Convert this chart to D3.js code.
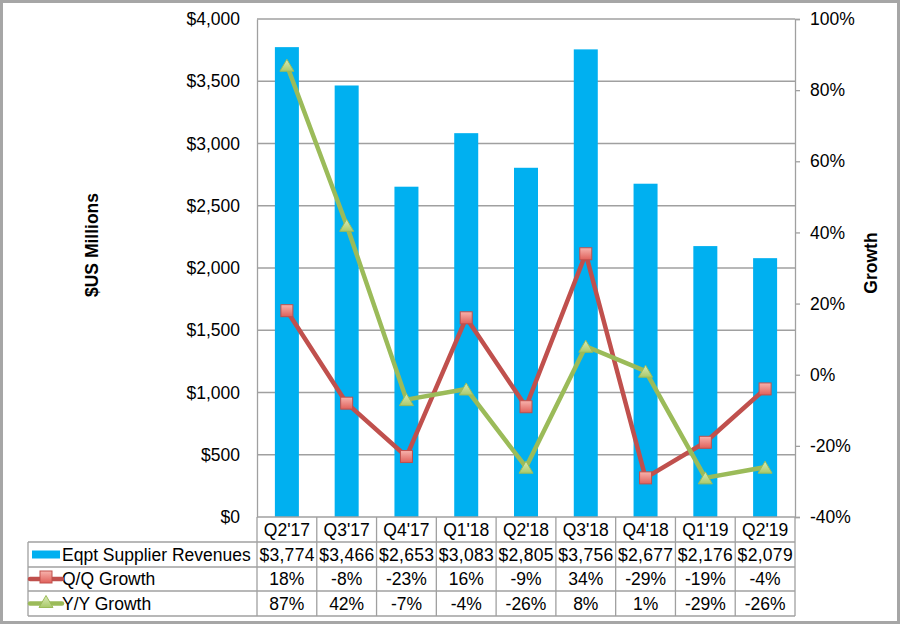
<!DOCTYPE html>
<html><head><meta charset="utf-8">
<script src="https://cdn.jsdelivr.net/npm/d3@7"></script>
<style>
html,body{margin:0;padding:0;background:#fff;}
svg{display:block;font-family:"Liberation Sans",Arial,sans-serif;}
</style></head>
<body><svg id="c" width="902" height="625"></svg>
<script>
const categories = ["Q2'17","Q3'17","Q4'17","Q1'18","Q2'18","Q3'18","Q4'18","Q1'19","Q2'19"];
const revenues = [3774,3466,2653,3083,2805,3756,2677,2176,2079];
const qqGrowth = [18,-8,-23,16,-9,34,-29,-19,-4];
const yyGrowth = [87,42,-7,-4,-26,8,1,-29,-26];
const leftTicks = [0,500,1000,1500,2000,2500,3000,3500,4000];
const rightTicks = [-40,-20,0,20,40,60,80,100];
const seriesNames = ["Eqpt Supplier Revenues","Q/Q Growth","Y/Y Growth"];

const svg = d3.select("#c");
const W = 902, H = 625;
const L = 257, R = 795, T = 19, B = 517;
const FS = 17.5;
const barColor = "#00b0f0", qqColor = "#c0504d", yyColor = "#9bbb59", gridColor = "#a0a0a0";

const defs = svg.append("defs");
const gq = defs.append("linearGradient").attr("id","gq").attr("x1",0).attr("y1",0).attr("x2",0).attr("y2",1);
gq.append("stop").attr("offset","0%").attr("stop-color","#f7b3ad");
gq.append("stop").attr("offset","100%").attr("stop-color","#e0605a");
const gy = defs.append("linearGradient").attr("id","gy").attr("x1",0).attr("y1",0).attr("x2",0).attr("y2",1);
gy.append("stop").attr("offset","0%").attr("stop-color","#dcebb8");
gy.append("stop").attr("offset","100%").attr("stop-color","#a9c96a");

svg.append("rect").attr("x",1.5).attr("y",1.5).attr("width",W-5).attr("height",H-4)
  .attr("fill","#fff").attr("stroke","#a6a6a6").attr("stroke-width",3);

const xb = d3.scaleBand().domain(categories).range([L,R]);
const yL = d3.scaleLinear().domain([0,4000]).range([B,T]);
const yR = d3.scaleLinear().domain([-40,100]).range([B,T]);

// gridlines
svg.append("g").selectAll("line").data(leftTicks.slice(1)).join("line")
  .attr("x1",L).attr("x2",R).attr("y1",d=>yL(d)).attr("y2",d=>yL(d))
  .attr("stroke",gridColor).attr("stroke-width",1.3);

// left axis
const la = svg.append("g").attr("transform",`translate(${L},0)`)
  .call(d3.axisLeft(yL).tickValues(leftTicks).tickSize(0).tickPadding(17)
    .tickFormat(d=>"$"+d3.format(",")(d)));
la.select(".domain").attr("stroke",gridColor).attr("stroke-width",1.3);
la.selectAll("text").attr("font-size",FS).attr("fill","#000").attr("font-family","Liberation Sans, Arial, sans-serif");

// right axis
const ra = svg.append("g").attr("transform",`translate(${R},0)`)
  .call(d3.axisRight(yR).tickValues(rightTicks).tickSize(5).tickPadding(10)
    .tickFormat(d=>d+"%"));
ra.select(".domain").attr("stroke",gridColor).attr("stroke-width",1.3);
ra.selectAll(".tick line").attr("stroke",gridColor).attr("stroke-width",1.3);
ra.selectAll("text").attr("font-size",FS).attr("fill","#000").attr("font-family","Liberation Sans, Arial, sans-serif");

// bars
svg.append("g").selectAll("rect").data(revenues).join("rect")
  .attr("x",(d,i)=>xb(categories[i])+xb.bandwidth()/2-12)
  .attr("width",24)
  .attr("y",d=>yL(d)).attr("height",d=>B-yL(d)).attr("fill",barColor);

// lines
const cx = i => xb(categories[i]) + xb.bandwidth()/2;
const line = d3.line().x((d,i)=>cx(i)).y(d=>yR(d));
svg.append("path").datum(qqGrowth).attr("d",line).attr("fill","none")
  .attr("stroke",qqColor).attr("stroke-width",4.5).attr("stroke-linejoin","round");
svg.append("path").datum(yyGrowth).attr("d",line).attr("fill","none")
  .attr("stroke",yyColor).attr("stroke-width",4.5).attr("stroke-linejoin","round");

function square(g, px, py){
  g.append("rect").attr("x",px-6).attr("y",py-6).attr("width",12).attr("height",12)
   .attr("fill","url(#gq)").attr("stroke","#c0504d").attr("stroke-width",1);
}
function tri(g, px, py){
  g.append("path").attr("d",`M${px},${py-7}L${px+7},${py+5}L${px-7},${py+5}Z`)
   .attr("fill","url(#gy)").attr("stroke","#9bbb59").attr("stroke-width",1);
}
const mg = svg.append("g");
qqGrowth.forEach((d,i)=>square(mg,cx(i),yR(d)));
yyGrowth.forEach((d,i)=>tri(mg,cx(i),yR(d)+1));

// axis titles
svg.append("text").attr("transform","translate(98,245) rotate(-90)")
  .attr("text-anchor","middle").attr("font-size",FS).attr("font-weight","bold").text("$US Millions");
svg.append("text").attr("transform","translate(877,263) rotate(-90)")
  .attr("text-anchor","middle").attr("font-size",FS).attr("font-weight","bold").text("Growth");

// data table
const tL = 28;
const rowY = [B, 542, 567, 591, 616];
const tg = svg.append("g");
const tStroke = "#a0a0a0";
categories.forEach((c,i)=>{
  tg.append("line").attr("x1",xb(c)).attr("x2",xb(c)).attr("y1",B).attr("y2",rowY[4])
    .attr("stroke",tStroke).attr("stroke-width",1.3);
});
tg.append("line").attr("x1",R).attr("x2",R).attr("y1",B).attr("y2",rowY[4]).attr("stroke",tStroke).attr("stroke-width",1.3);
tg.append("line").attr("x1",tL).attr("x2",tL).attr("y1",rowY[1]).attr("y2",rowY[4]).attr("stroke",tStroke).attr("stroke-width",1.3);
[1,2,3,4].forEach(k=>{
  tg.append("line").attr("x1",tL).attr("x2",R).attr("y1",rowY[k]).attr("y2",rowY[k]).attr("stroke",tStroke).attr("stroke-width",1.3);
});
tg.append("line").attr("x1",L).attr("x2",R).attr("y1",B).attr("y2",B).attr("stroke",tStroke).attr("stroke-width",1.3);

const rowsData = [
  revenues.map(v=>"$"+d3.format(",")(v)),
  qqGrowth.map(v=>v+"%"),
  yyGrowth.map(v=>v+"%")
];
categories.forEach((c,i)=>{
  tg.append("text").attr("x",cx(i)).attr("y",(rowY[0]+rowY[1])/2+6).attr("text-anchor","middle")
    .attr("font-size",FS).text(c);
});
rowsData.forEach((row,r)=>{
  row.forEach((v,i)=>{
    tg.append("text").attr("x",cx(i)).attr("y",(rowY[r+1]+rowY[r+2])/2+6).attr("text-anchor","middle")
      .attr("font-size",FS).attr("textLength", r===0 ? 55 : null).text(v);
  });
  tg.append("text").attr("x",62).attr("y",(rowY[r+1]+rowY[r+2])/2+6).attr("font-size",FS).text(seriesNames[r]);
});
// legend keys
const k1 = (rowY[1]+rowY[2])/2, k2 = (rowY[2]+rowY[3])/2, k3 = (rowY[3]+rowY[4])/2;
tg.append("rect").attr("x",32).attr("y",k1-4).attr("width",28).attr("height",8).attr("fill",barColor);
tg.append("line").attr("x1",30).attr("x2",62).attr("y1",k2).attr("y2",k2).attr("stroke",qqColor).attr("stroke-width",4.5).attr("stroke-linecap","round");
square(tg,46,k2-2);
tg.append("line").attr("x1",30).attr("x2",62).attr("y1",k3).attr("y2",k3).attr("stroke",yyColor).attr("stroke-width",4.5).attr("stroke-linecap","round");
tri(tg,46,k3-1);
</script></body></html>
